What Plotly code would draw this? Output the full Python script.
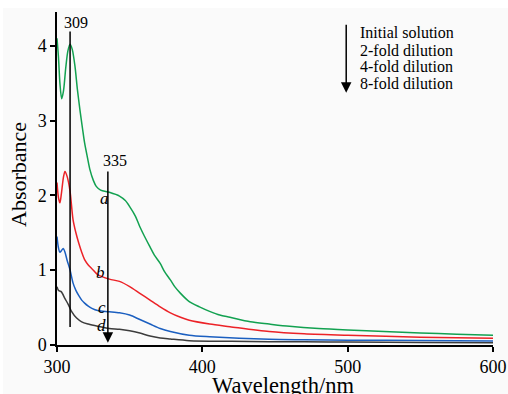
import plotly.graph_objects as go

# ---- data ----
wl_a = [300, 301, 302, 303.2, 304.5, 306, 307.5, 309, 310.5, 312.4, 314, 315.8, 317.5, 319, 321, 322.7,
        325, 327, 330, 336, 343, 347, 350, 354, 357, 360, 364, 367, 371, 374, 378, 381, 385, 391, 398,
        405, 412, 419, 433, 446, 460, 480, 500, 525, 550, 575, 600]
abs_a = [4.10, 3.85, 3.50, 3.29, 3.40, 3.70, 3.93, 4.02, 3.95, 3.72, 3.42, 3.14, 2.90, 2.70, 2.50, 2.34,
         2.20, 2.12, 2.07, 2.04, 1.99, 1.93, 1.85, 1.72, 1.58, 1.46, 1.31, 1.20, 1.09, 0.98, 0.87, 0.78,
         0.69, 0.58, 0.51, 0.45, 0.40, 0.37, 0.31, 0.28, 0.25, 0.22, 0.20, 0.18, 0.16, 0.145, 0.13]

wl_b = [300, 301, 302, 303, 304.5, 305.5, 307, 309, 311, 313, 315, 317, 319, 321.5, 324, 328, 336, 343,
        350, 357, 364, 371, 378, 385, 391, 405, 419, 446, 470, 500, 550, 600]
abs_b = [2.17, 1.97, 1.90, 2.02, 2.25, 2.32, 2.25, 2.05, 1.68, 1.50, 1.36, 1.24, 1.14, 1.07, 1.02, 0.94,
         0.88, 0.85, 0.78, 0.69, 0.60, 0.51, 0.43, 0.37, 0.33, 0.28, 0.245, 0.18, 0.15, 0.13, 0.105, 0.09]

wl_c = [300, 301, 302, 303, 304.3, 305.5, 307, 309, 311, 313, 315, 317, 319, 321.5, 324, 328, 336, 343,
        350, 357, 364, 371, 378, 391, 405, 446, 470, 500, 550, 600]
abs_c = [1.45, 1.30, 1.24, 1.26, 1.29, 1.24, 1.13, 1.00, 0.83, 0.73, 0.66, 0.60, 0.56, 0.52, 0.49, 0.46,
         0.445, 0.43, 0.40, 0.34, 0.28, 0.22, 0.18, 0.13, 0.11, 0.076, 0.07, 0.065, 0.06, 0.055]

wl_d = [300, 301, 302, 303, 305.5, 307.8, 310, 313.5, 317, 321.5, 328, 336, 343, 350, 357, 364, 371,
        378, 391, 420, 446, 470, 500, 550, 600]
abs_d = [0.78, 0.73, 0.72, 0.71, 0.62, 0.54, 0.45, 0.36, 0.31, 0.28, 0.25, 0.22, 0.21, 0.19, 0.16, 0.12,
         0.094, 0.08, 0.058, 0.05, 0.045, 0.042, 0.04, 0.035, 0.03]

curve_labels = ["a", "b", "c", "d"]
label_wl = [332.5, 330, 330.7, 330.7]
label_abs = [1.96, 0.97, 0.50, 0.26]

peak_wl = [309, 335]
peak_text = ["309", "335"]
peak_line_top = [4.21, 2.34]
peak_line_bottom = [0.24, 0.03]
peak_text_wl = [313, 340]
peak_text_abs = [4.31, 2.46]

legend_lines = ["Initial solution", "2-fold dilution", "4-fold dilution", "8-fold dilution"]
legend_abs = [4.18, 3.94, 3.72, 3.49]
legend_wl = 507
legend_arrow_wl = 499
legend_arrow_top = 4.30
legend_arrow_tip = 3.37

x_ticks = [300, 400, 500, 600]
y_ticks = [0, 1, 2, 3, 4]

colors = ["#12a150", "#ec2227", "#1b5fc0", "#3c3c3c"]
FONT = "Liberation Serif, Times New Roman, serif"

W, H = 508, 394
ML, MR, MT, MB = 57, 15, 12, 49
PW, PH = W - ML - MR, H - MT - MB

fig = go.Figure()
for wl, ab, col in zip([wl_a, wl_b, wl_c, wl_d], [abs_a, abs_b, abs_c, abs_d], colors):
    fig.add_trace(go.Scatter(x=wl, y=ab, mode="lines",
                             line=dict(color=col, width=1.5, shape="spline", smoothing=0.8),
                             showlegend=False, hoverinfo="skip"))

annotations = []
for lab, x, y in zip(curve_labels, label_wl, label_abs):
    annotations.append(dict(x=x, y=y, xref="x", yref="y", text=f"<i>{lab}</i>", showarrow=False,
                            font=dict(family=FONT, size=17, color="black")))

# 309 line (plain) and 335 line with arrowhead
annotations.append(dict(x=peak_wl[0], y=peak_line_bottom[0], ax=peak_wl[0], ay=peak_line_top[0],
                        xref="x", yref="y", axref="x", ayref="y", text="", showarrow=True,
                        arrowhead=0, arrowwidth=1.5, arrowcolor="black", standoff=0, startstandoff=0))
annotations.append(dict(x=peak_wl[1], y=peak_line_bottom[1], ax=peak_wl[1], ay=peak_line_top[1],
                        xref="x", yref="y", axref="x", ayref="y", text="", showarrow=True,
                        arrowhead=2, arrowsize=1.4, arrowwidth=1.5, arrowcolor="black", standoff=0))
for t, x, y in zip(peak_text, peak_text_wl, peak_text_abs):
    annotations.append(dict(x=x, y=y, xref="x", yref="y", text=t, showarrow=False,
                            font=dict(family=FONT, size=16, color="black")))

annotations.append(dict(x=legend_arrow_wl, y=legend_arrow_tip, ax=legend_arrow_wl, ay=legend_arrow_top,
                        xref="x", yref="y", axref="x", ayref="y", text="", showarrow=True,
                        arrowhead=2, arrowsize=1.4, arrowwidth=1.5, arrowcolor="black", standoff=0))
for t, y in zip(legend_lines, legend_abs):
    annotations.append(dict(x=legend_wl, y=y, xref="x", yref="y", text=t, showarrow=False, xanchor="left",
                            font=dict(family=FONT, size=16, color="black")))

# axis titles
annotations.append(dict(x=(18 - ML) / PW, y=(H - MB - 175) / PH, xref="paper", yref="paper",
                        xanchor="center", yanchor="middle", text="Absorbance", textangle=-90,
                        showarrow=False, font=dict(family=FONT, size=22, color="black")))
annotations.append(dict(x=(283 - ML) / PW, y=(H - MB - 385) / PH, xref="paper", yref="paper",
                        xanchor="center", yanchor="middle", text="Wavelength/nm",
                        showarrow=False, font=dict(family=FONT, size=22.5, color="black")))

axis_common = dict(showgrid=False, zeroline=False, showline=True, linecolor="black", linewidth=1.5,
                   ticks="outside", ticklen=5, tickwidth=1.5, tickcolor="black", automargin=False,
                   tickfont=dict(family=FONT, size=18, color="black"))

fig.update_layout(
    width=W, height=H, autosize=False,
    margin=dict(l=ML, r=MR, t=MT, b=MB, pad=0, autoexpand=False),
    paper_bgcolor="white", plot_bgcolor="#fafafa",
    xaxis=dict(range=[300, 600], tickvals=x_ticks, **axis_common),
    yaxis=dict(range=[0, 4.45], tickvals=y_ticks, **axis_common),
    annotations=annotations,
    shapes=[dict(type="rect", xref="paper", yref="paper",
                 x0=(3 - ML) / PW, x1=(W - ML) / PW, y0=-MB / PH, y1=(H - MB - 8) / PH,
                 fillcolor="#fafafa", line=dict(width=0), layer="below")],
)

fig.write_html("out.html", config={"displayModeBar": False, "responsive": False},
               post_script="document.body.style.margin='0';document.body.style.overflow='hidden';")
